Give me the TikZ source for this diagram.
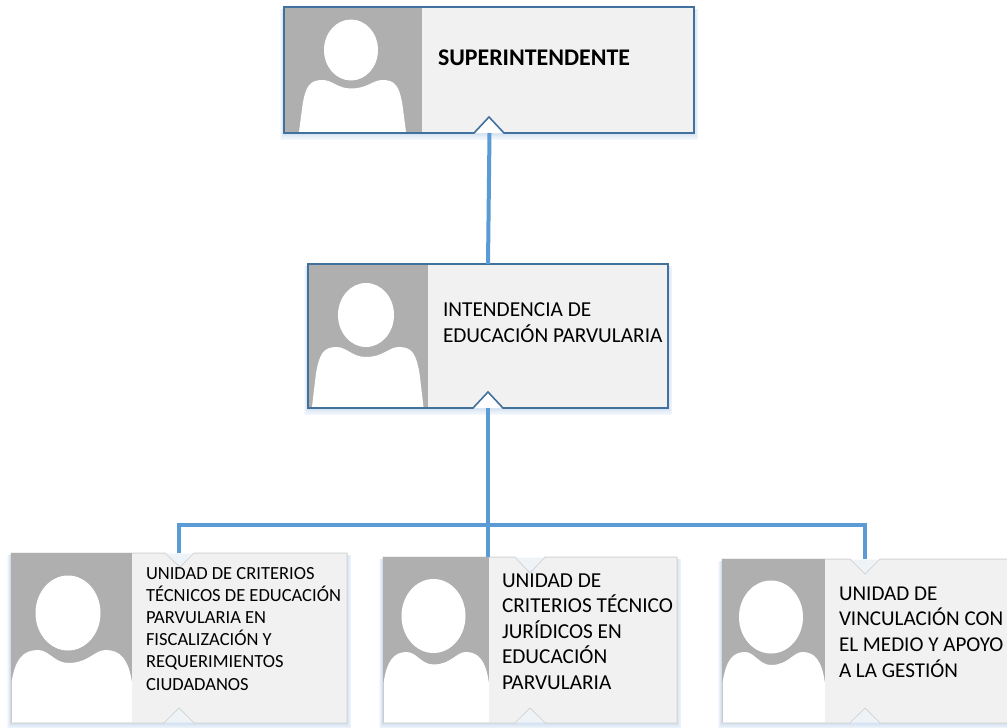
\documentclass[tikz,border=0pt]{standalone}
\usepackage{fontspec}
\setmainfont{Carlito}
\definecolor{linkblue}{HTML}{5B9BD5}
\definecolor{rimblue}{HTML}{41719C}
\definecolor{rimgray}{HTML}{D2D4D6}
\definecolor{cardfill}{HTML}{F1F1F1}
\definecolor{photogray}{HTML}{AFAFAF}
\definecolor{halo}{HTML}{BBD3EC}
\definecolor{notchtint}{HTML}{EEF3F8}
\tikzset{
  boxanchor/.style={inner sep=0pt,outer sep=0pt,draw=none,fill=none},
  link/.style={draw=linkblue,line width=4pt,line join=miter},
  label/.style={inner sep=0pt,outer sep=0pt,anchor=north west,align=left,text=black},
}
% soft glow round a card
\newcommand{\glow}[4]{%
  \foreach \g in {6,5,4,3,2,1}{%
    \fill[halo,opacity=.14] ({#1-\g*.6},{#2+2}) rectangle ({#3+\g*.7},{#4+\g*1.1});
  }}
% x0 y0 xp x1 y1
\newcommand{\cardbody}[5]{%
  \fill[cardfill] (#1,#2) rectangle (#4,#5);
  \fill[photogray] (#1,#2) rectangle (#3,#5);
}
\newcommand{\shoulderslant}{0.035}
% photo head & shoulders: hx hy rx ry L R top dip bottom
\newcommand{\portrait}[9]{%
  \fill[white] (#1,#2) ellipse ({#3} and {#4});
  \fill[white] (#5,#9)
    -- ({#5+\shoulderslant*(#6-#5)},{#7+.45*(#9-#7)})
    .. controls ({#5+(\shoulderslant+.03)*(#6-#5)},{#7+.12*(#9-#7)}) and ({#5+.10*(#6-#5)},#7) .. ({#5+.22*(#6-#5)},#7)
    .. controls ({#5+.31*(#6-#5)},#7) and ({#5+.36*(#6-#5)},#8) .. (#1,#8)
    .. controls ({#6-.36*(#6-#5)},#8) and ({#6-.31*(#6-#5)},#7) .. ({#6-.22*(#6-#5)},#7)
    .. controls ({#6-.10*(#6-#5)},#7) and ({#6-(\shoulderslant+.03)*(#6-#5)},{#7+.12*(#9-#7)}) .. ({#6-\shoulderslant*(#6-#5)},{#7+.45*(#9-#7)})
    -- (#6,#9) -- cycle;
}
\begin{document}
\begin{tikzpicture}[x=1pt,y=-1pt]
\useasboundingbox (0,0) rectangle (1007,728);
\fill[white] (0,0) rectangle (1007,728);

% named anchors of the cards
\node[boxanchor,minimum width=410pt,minimum height=126pt] (sup) at (489.5,70) {};
\node[boxanchor,minimum width=360pt,minimum height=144pt] (int) at (488,336) {};
\coordinate (u1in) at (179,553);
\coordinate (u2in) at (488,557);
\coordinate (u3in) at (865,559);
\coordinate (bus) at (488,525);

% ---- superintendente
\glow{284}{7}{694}{133}
\cardbody{284}{7}{422}{694}{133}
\portrait{351}{50}{27}{30.5}{299}{406}{80}{88.5}{132}
\fill[white!96!cardfill] (474,133) -- (489,117) -- (504,133) -- cycle;
\draw[rimblue,line width=1.6pt,line join=miter] (284,7) -- (694,7) -- (694,133) -- (504,133) -- (489,117) -- (474,133) -- (284,133) -- cycle;

% ---- intendencia
\glow{308}{264}{668}{408}
\cardbody{308}{264}{428}{668}{408}
\portrait{366}{315}{28}{32}{312}{423.5}{347}{357}{407}
\fill[white!96!cardfill] (473,408) -- (488,392) -- (503,408) -- cycle;
\draw[rimblue,line width=1.6pt,line join=miter] (308,264) -- (668,264) -- (668,408) -- (503,408) -- (488,392) -- (473,408) -- (308,408) -- cycle;

% ---- unit cards
\glow{11}{553}{347}{723}
\glow{383}{557}{677}{723}
\glow{722}{559}{1012}{723}
\begin{scope}[rimgray,line width=1pt,line join=miter]
  \filldraw[fill=cardfill] (11,553) -- (165,553) -- (180,567) -- (194,553) -- (347,553) -- (347,723) -- (194,723) -- (179,708) -- (164,723) -- (11,723) -- cycle;
  \filldraw[fill=cardfill] (383,557) -- (515,557) -- (530,573) -- (545,557) -- (677,557) -- (677,723) -- (545,723) -- (530,708) -- (515,723) -- (383,723) -- cycle;
  \filldraw[fill=cardfill] (722,559) -- (850,559) -- (865,574) -- (880,559) -- (1012,559) -- (1012,723) -- (880,723) -- (865,708) -- (850,723) -- (722,723) -- cycle;
\end{scope}
\fill[notchtint] (166,553.5) -- (180,566) -- (193,553.5) -- cycle;
\fill[notchtint] (516,557.5) -- (530,572) -- (544,557.5) -- cycle;
\fill[notchtint] (851,559.5) -- (865,573) -- (879,559.5) -- cycle;
\fill[notchtint] (165,722.5) -- (179,709) -- (193,722.5) -- cycle;
\fill[notchtint] (516,722.5) -- (530,709) -- (544,722.5) -- cycle;
\fill[notchtint] (851,722.5) -- (865,709) -- (879,722.5) -- cycle;
\renewcommand{\shoulderslant}{0}
\fill[photogray] (11,552.5) rectangle (132,722);
\portrait{68}{613}{32.5}{37.5}{11.5}{132}{650}{663}{722}
\fill[photogray] (383,556.5) rectangle (489,722);
\portrait{433.5}{616}{32}{37}{383.5}{489}{652}{664.5}{722}
\fill[photogray] (722,558.5) rectangle (825,722);
\portrait{771}{617}{32}{36.5}{722.5}{825}{652}{665}{722}

% ---- connectors
\draw[link] (sup.south) -- (int.north);
\draw[link] (int.south) -- (u2in);
\draw[link] (u1in) |- (bus) -| (u3in);

% ---- labels
\node[label,font=\fontsize{23.9}{28}\selectfont\bfseries] (tsup) at (438,49.5) {SUPERINTENDENTE};
\node[label,font=\fontsize{21.3}{26}\selectfont] (tint) at (443,303) {INTENDENCIA DE\\EDUCACIÓN PARVULARIA};
\node[label,font=\fontsize{18.5}{22.2}\selectfont] (tu1) at (146,567) {UNIDAD DE CRITERIOS\\TÉCNICOS DE EDUCACIÓN\\PARVULARIA EN\\FISCALIZACIÓN Y\\REQUERIMIENTOS\\CIUDADANOS};
\node[label,font=\fontsize{21.3}{25.6}\selectfont] (tu2) at (502,573.5) {UNIDAD DE\\CRITERIOS TÉCNICO\\JURÍDICOS EN\\EDUCACIÓN\\PARVULARIA};
\node[label,font=\fontsize{21.1}{25.7}\selectfont] (tu3) at (839,586.5) {UNIDAD DE\\VINCULACIÓN CON\\EL MEDIO Y APOYO\\A LA GESTIÓN};
\end{tikzpicture}
\end{document}
